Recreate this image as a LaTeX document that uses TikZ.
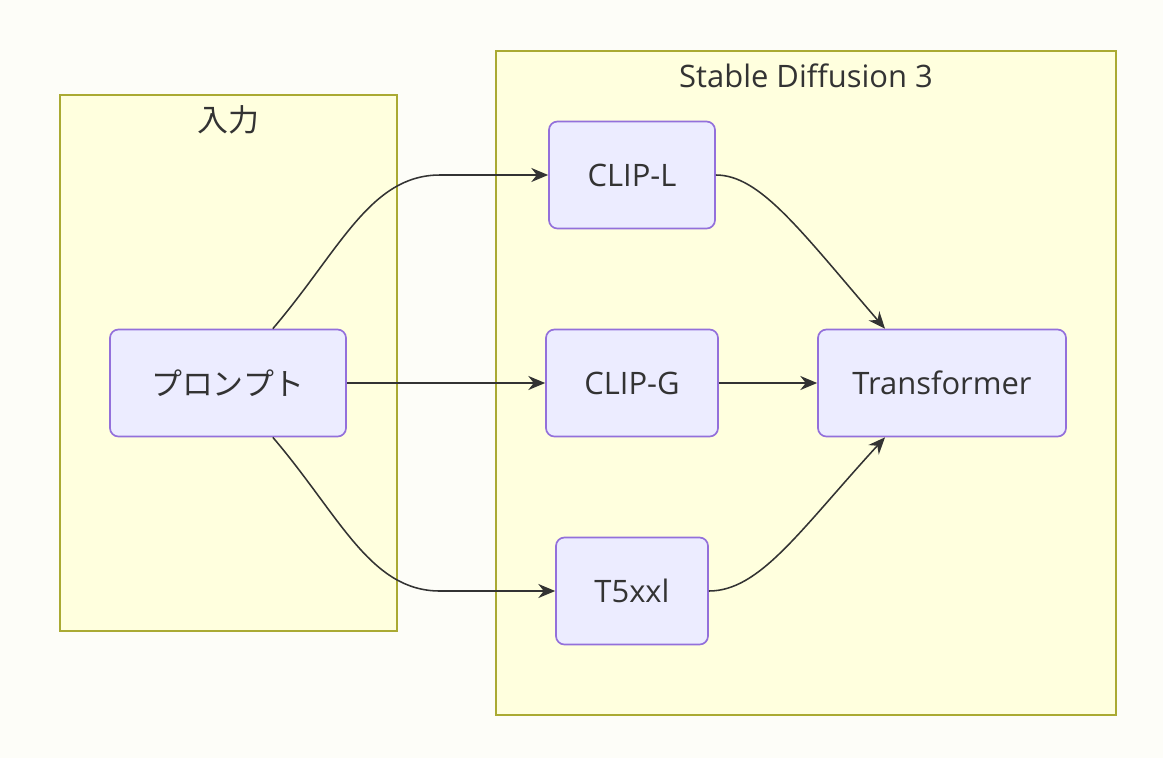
\documentclass[tikz,border=0pt]{standalone}
\usepackage{fontspec}
\setmainfont{Open Sans}
\newfontfamily\cjk{Noto Sans CJK JP}
\usetikzlibrary{arrows.meta}
\definecolor{bgcol}{HTML}{FDFDF8}
\definecolor{clusterfill}{HTML}{FFFFDE}
\definecolor{clusterline}{HTML}{AAAA33}
\definecolor{nodefill}{HTML}{ECECFF}
\definecolor{nodeline}{HTML}{9370DB}
\definecolor{edgecol}{HTML}{333333}
\tikzset{
    cluster/.style={draw=clusterline, fill=clusterfill, line width=1.2pt},
    block/.style={draw=nodeline, fill=nodefill, line width=1.2pt, rounded corners=6pt,
        minimum height=107*0.025cm, font=\fontsize{22}{26}\selectfont, text=edgecol},
    title/.style={font=\fontsize{22}{26}\selectfont, text=edgecol},
    flow/.style={draw=edgecol, line width=1.1pt, -{Stealth[length=12pt, width=10pt]}}
}
\begin{document}
\begin{tikzpicture}[x=0.025cm, y=-0.025cm]
    % background
    \fill[bgcol] (0,0) rectangle (1163,758);
    \useasboundingbox (0,0) rectangle (1163,758);

    % clusters
    \draw[cluster] (60,95) rectangle (397,631);
    \node[title] (inTitle) at (228,120) {\cjk 入力};
    \draw[cluster] (496,51) rectangle (1116,715);
    \node[title] (sdTitle) at (806,76) {Stable Diffusion 3};

    % nodes
    \node[block, minimum width=236*0.025cm] (prompt) at (228,383) {\cjk プロンプト};
    \node[block, minimum width=166*0.025cm] (clipl) at (632,175) {CLIP-L};
    \node[block, minimum width=172*0.025cm] (clipg) at (632,383) {CLIP-G};
    \node[block, minimum width=152*0.025cm] (t5) at (632,591) {T5xxl};
    \node[block, minimum width=248*0.025cm] (trans) at (942,383) {Transformer};

    % edges
    \draw[flow] (prompt.north east) ++(-74,0) coordinate (p1)
        .. controls (340,250) and (370,175) .. (440,175) -- (clipl.west);
    \draw[flow] (prompt.east) -- (clipg.west);
    \draw[flow] (prompt.south east) ++(-74,0) coordinate (p2)
        .. controls (340,516) and (370,591) .. (440,591) -- (t5.west);
    \draw[flow] (clipl.east) .. controls (760,175) and (800,230) .. (trans.north west -| 885,330);
    \draw[flow] (clipg.east) -- (trans.west);
    \draw[flow] (t5.east) .. controls (760,591) and (800,530) .. (trans.south west -| 885,437);
\end{tikzpicture}
\end{document}
